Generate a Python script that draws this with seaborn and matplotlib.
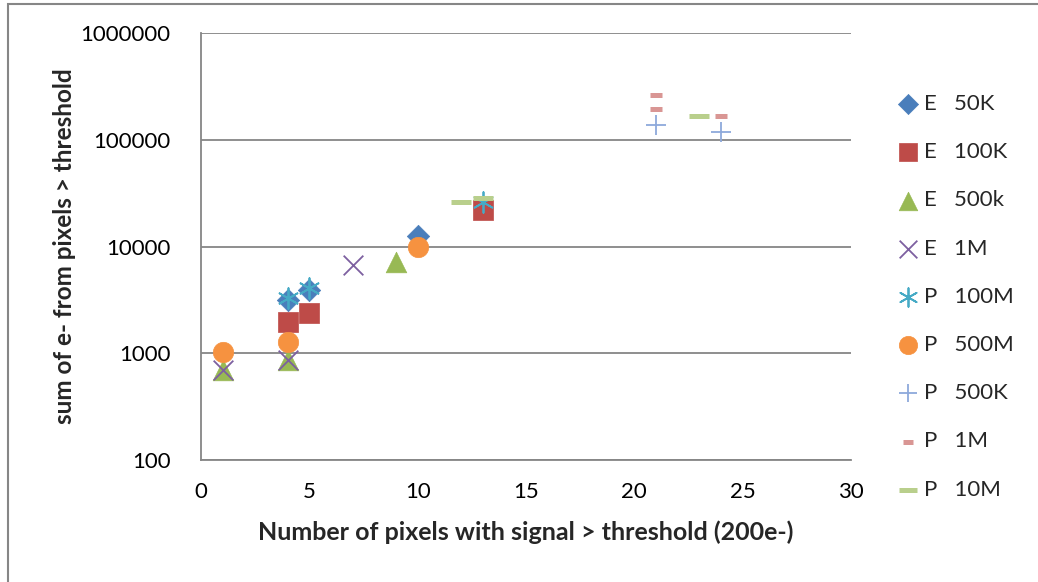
import matplotlib
matplotlib.use("Agg")
import matplotlib.pyplot as plt
import seaborn as sns
from matplotlib.patches import Rectangle
from matplotlib.ticker import FixedLocator, FixedFormatter, NullLocator

# series labels (as in the legend)
labels = ["E   50K", "E   100K", "E   500k", "E   1M", "P   100M",
          "P   500M", "P   500K", "P   1M", "P   10M"]

# x = number of pixels with signal > threshold, y = sum of e- from those pixels
e50k_x = [4, 5, 10]
e50k_y = [3150, 3950, 12500]
e100k_x = [4, 5, 13]
e100k_y = [1950, 2400, 22000]
e500k_x = [1, 4, 9]
e500k_y = [700, 870, 7100]
e1m_x = [1, 4, 7]
e1m_y = [690, 870, 6700]
p100m_x = [4, 5, 13]
p100m_y = [3300, 4050, 26000]
p500m_x = [1, 4, 10]
p500m_y = [1030, 1280, 10000]
p500k_x = [21, 24]
p500k_y = [137000, 118000]
p1m_x = [21, 21, 24]
p1m_y = [265000, 196000, 168000]
p10m_x = [12, 13, 23]
p10m_y = [26000, 28500, 168000]

yticks = [100, 1000, 10000, 100000, 1000000]
xticks = [0, 5, 10, 15, 20, 25, 30]

sns.set_style("white")
plt.rcParams["font.family"] = ["Lato", "DejaVu Sans"]

fig = plt.figure(figsize=(10.38, 5.82), dpi=100)
ax = fig.add_axes([0.1936, 0.2096, 0.6262, 0.7337])

grey = "#868686"
series = [
    (e50k_x, e50k_y, "D", 130, "#4A7EBB", 0.5),
    (e100k_x, e100k_y, "s", 200, "#BE4B48", 0.5),
    (e500k_x, e500k_y, "^", 220, "#98B954", 0.5),
    (e1m_x, e1m_y, "x", 200, "#7D60A0", 1.3),
    (p100m_x, p100m_y, (6, 2, 0), 220, "#46AAC5", 1.3),
    (p500m_x, p500m_y, "o", 215, "#F69240", 0.5),
    (p500k_x, p500k_y, "+", 220, "#8EA9DB", 1.3),
    (p1m_x, p1m_y, "_", 64, "#D99694", 3.6),
    (p10m_x, p10m_y, "_", 210, "#B9CF8C", 3.6),
]

for (xs, ys, mk, size, col, lw), lab in zip(series, labels):
    if mk in ("D", "s", "^", "o"):
        sns.scatterplot(x=xs, y=ys, ax=ax, marker=mk, s=size, color=col,
                        edgecolor=col, linewidth=lw, label=lab, zorder=3)
    else:
        sns.scatterplot(x=xs, y=ys, ax=ax, marker=mk, s=size, color=col,
                        linewidth=lw, label=lab, zorder=3)

ax.set_yscale("log")
ax.set_ylim(100, 1000000)
ax.set_xlim(0, 30)
ax.yaxis.set_major_locator(FixedLocator(yticks))
ax.yaxis.set_major_formatter(FixedFormatter([str(t) for t in yticks]))
ax.yaxis.set_minor_locator(NullLocator())
ax.set_xticks(xticks)
ax.tick_params(axis="both", length=0, labelsize=16, colors="black")
ax.tick_params(axis="y", pad=22)
ax.tick_params(axis="x", pad=16)

ax.grid(axis="y", color=grey, linewidth=1.3)
ax.grid(axis="x", visible=False)
for side in ["top", "right"]:
    ax.spines[side].set_visible(False)
for side in ["left", "bottom"]:
    ax.spines[side].set_color(grey)
    ax.spines[side].set_linewidth(1.3)

ax.set_xlabel("Number of pixels with signal > threshold (200e-)",
              fontsize=18, fontweight="bold", labelpad=13)
ax.set_ylabel("sum of e- from pixels > threshold",
              fontsize=17.5, fontweight="bold", labelpad=3)

ax.get_legend().remove()
handles, labs = ax.get_legend_handles_labels()
fig.legend(handles, labs, loc="center left", bbox_to_anchor=(0.851, 0.490),
           frameon=False, fontsize=16, labelspacing=1.27, handletextpad=0.15,
           handlelength=1.2, borderpad=0, markerscale=0.9)

# outer chart border (left and top visible)
fig.patches.append(Rectangle((7.5 / 1038, -0.1), 1.2, 1.1 - 4 / 582,
                             transform=fig.transFigure, fill=False,
                             edgecolor=grey, linewidth=1.5))

fig.savefig("out.png", dpi=100)
